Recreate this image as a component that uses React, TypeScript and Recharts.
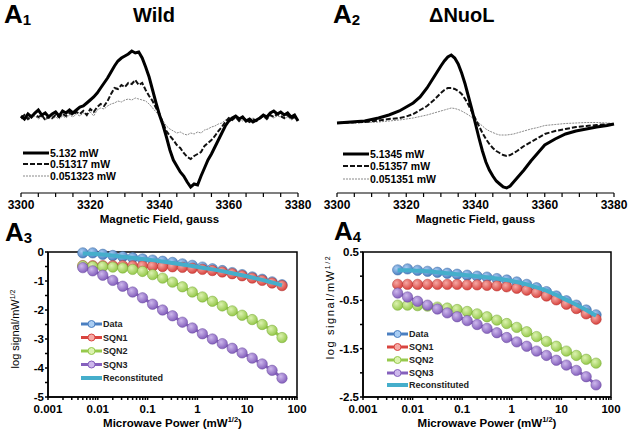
import React from 'react';
import { LineChart, Line, XAxis, YAxis, Legend, ReferenceArea } from 'recharts';

const FONT = '"Liberation Sans", Arial, Helvetica, sans-serif';

// field grid of the wild-type spectra (1 gauss steps)
const WILD_FIELD = Array.from({ length: 81 }, (_, i) => 3300 + i);
const WILD_5132 = [
  2, -1, 4, 1, 5, 8, 3, 5, 1, 4,
  6, 2, 7, 5, 8, 5, 8, 11, 12, 15,
  18, 21, 25, 30, 35, 40, 46, 52, 57, 60,
  62, 64, 67, 65, 66, 60, 51, 41, 28, 15,
  3, -7, -19, -32, -42, -48, -54, -58, -64, -69,
  -66, -67, -58, -50, -42, -36, -29, -22, -15, -8,
  -3, 0, 2, -1, 1, -3, -1, -4, -2, 0,
  3, 1, 5, 7, 4, 6, 3, 5, 1, 3, -3,
];
const WILD_0513 = [
  0, 3, -1, 2, 4, 1, 3, -2, 2, 0,
  3, 1, 4, 2, 5, 3, 6, 4, 7, 3,
  9, 6, 11, 14, 12, 17, 24, 30, 29, 33,
  31, 35, 34, 38, 33, 35, 28, 22, 17, 10,
  4, -5, -13, -18, -22, -27, -30, -35, -39, -41,
  -38, -36, -34, -28, -25, -22, -18, -13, -9, -4,
  0, -2, 1, -3, 0, -2, -4, -1, -3, 0,
  2, -1, 3, 1, 4, 2, 0, 3, -1, 1, -2,
];
const WILD_0051 = [
  -1, 1, -2, 0, 2, -1, 1, -2, 0, -1,
  1, -1, 2, 0, 3, 1, 4, 2, 5, 3,
  6, 2, 8, 10, 9, 12, 14, 15, 17, 16,
  18, 19, 18, 20, 19, 18, 17, 14, 10, 6,
  2, -3, -8, -11, -13, -15, -14, -16, -17, -15,
  -16, -14, -15, -12, -11, -9, -8, -6, -5, -2,
  -1, -2, 0, -1, -3, -1, -2, 0, -2, -1,
  1, -1, 2, 0, 2, 1, -1, 1, -2, 0, -2,
];

const NUOL_FIELD = [
  3300, 3304, 3308, 3312, 3315, 3318, 3320, 3322, 3324, 3326, 3328,
  3330, 3331, 3332, 3333, 3334, 3335, 3336, 3337, 3338, 3339, 3340, 3341,
  3342, 3343, 3344, 3345, 3346, 3347, 3348, 3349, 3350, 3351, 3352,
  3354, 3356, 3358, 3360, 3363, 3366, 3369, 3372, 3375, 3378, 3380,
];
const NUOL_5134 = [
  -5, -4, -3, 0, 3, 7, 11, 15, 21, 30, 41,
  52, 57, 61, 63, 60, 54, 45, 34, 21, 8, -6, -20,
  -33, -44, -52, -58, -63, -66, -69, -70, -68, -64, -60,
  -52, -43, -35, -27, -21, -16, -13, -11, -9, -7.5, -6,
];
const NUOL_0513 = [
  -5, -4.5, -4, -2.5, -1, 0, 1.5, 4, 8, 12, 18,
  25, 28, 30, 30, 29, 27, 24, 19, 13, 6, -1, -8,
  -15, -21, -26, -30, -33, -35, -37, -38, -37, -35, -33,
  -28, -24, -20, -16, -13, -11, -9, -8, -7, -6.5, -6,
];
const NUOL_0051 = [
  -5, -5, -4.5, -4, -3, -2, -1, 0, 1.5, 3, 5,
  7, 8, 9, 10, 9.5, 8.5, 7, 5, 3, 0.5, -2, -5,
  -8, -11, -13, -14.5, -16, -17, -17, -17, -16.5, -16, -15,
  -13, -11, -9.5, -7.5, -6.5, -5.5, -5, -4.5, -4.5, -5, -5.5,
];

const FIELD_TICKS = [3300, 3305, 3310, 3315, 3320, 3325, 3330, 3335, 3340, 3345, 3350, 3355, 3360, 3365, 3370, 3375, 3380];

// square root of microwave power, mW^1/2
const POWER = [0.005, 0.0079, 0.0126, 0.02, 0.0316, 0.05, 0.079, 0.126, 0.2, 0.316, 0.5, 0.79, 1.26, 2, 3.16, 5, 7.9, 12.6, 20, 31.6, 50];
const LOG_TICKS = [
  0.001, 0.002, 0.003, 0.004, 0.005, 0.006, 0.007, 0.008, 0.009,
  0.01, 0.02, 0.03, 0.04, 0.05, 0.06, 0.07, 0.08, 0.09,
  0.1, 0.2, 0.3, 0.4, 0.5, 0.6, 0.7, 0.8, 0.9,
  1, 2, 3, 4, 5, 6, 7, 8, 9,
  10, 20, 30, 40, 50, 60, 70, 80, 90, 100,
];
const DECADES = [0.001, 0.01, 0.1, 1, 10, 100];

const A3_DATA = [-0.03, -0.03, -0.08, -0.12, -0.16, -0.2, -0.24, -0.28, -0.32, -0.36, -0.41, -0.46, -0.52, -0.58, -0.64, -0.71, -0.78, -0.86, -0.94, -1.03, -1.13];
const A3_SQN1 = [-0.47, -0.47, -0.47, -0.47, -0.47, -0.48, -0.48, -0.49, -0.5, -0.51, -0.53, -0.56, -0.6, -0.64, -0.69, -0.75, -0.82, -0.9, -0.98, -1.07, -1.16];
const A3_SQN2 = [-0.48, -0.5, -0.5, -0.52, -0.55, -0.6, -0.67, -0.78, -0.9, -1.04, -1.2, -1.38, -1.55, -1.7, -1.86, -2.03, -2.18, -2.33, -2.5, -2.7, -2.95];
const A3_SQN3 = [-0.54, -0.65, -0.8, -0.98, -1.18, -1.38, -1.58, -1.8, -2.0, -2.2, -2.42, -2.62, -2.82, -3.0, -3.16, -3.32, -3.48, -3.66, -3.86, -4.08, -4.35];
const A3_RECON = [-0.05, -0.06, -0.09, -0.12, -0.16, -0.2, -0.24, -0.28, -0.33, -0.38, -0.43, -0.48, -0.54, -0.6, -0.66, -0.73, -0.8, -0.88, -0.96, -1.05, -1.15];

const A4_DATA = [0.13, 0.15, 0.12, 0.1, 0.08, 0.06, 0.04, 0.02, 0.0, -0.02, -0.05, -0.08, -0.12, -0.17, -0.24, -0.32, -0.41, -0.51, -0.6, -0.7, -0.8];
const A4_SQN1 = [-0.17, -0.17, -0.17, -0.17, -0.17, -0.17, -0.17, -0.18, -0.18, -0.19, -0.2, -0.22, -0.25, -0.29, -0.34, -0.41, -0.49, -0.58, -0.67, -0.78, -0.89];
const A4_SQN2 = [-0.6, -0.6, -0.61, -0.62, -0.64, -0.66, -0.69, -0.73, -0.78, -0.84, -0.91, -0.98, -1.06, -1.15, -1.25, -1.35, -1.45, -1.55, -1.64, -1.72, -1.8];
const A4_SQN3 = [-0.35, -0.43, -0.52, -0.6, -0.68, -0.76, -0.84, -0.92, -1.0, -1.08, -1.17, -1.27, -1.36, -1.45, -1.55, -1.64, -1.74, -1.84, -1.95, -2.08, -2.25];
const A4_RECON = [0.12, 0.12, 0.11, 0.1, 0.08, 0.06, 0.04, 0.02, 0.0, -0.02, -0.05, -0.08, -0.12, -0.17, -0.23, -0.3, -0.39, -0.49, -0.59, -0.7, -0.82];

const SERIES = [
  { key: 'data', name: 'Data', base: '#4a7fc1', light: '#a9cdf3', edge: '#3a68a3' },
  { key: 'sqn1', name: 'SQN1', base: '#d9443f', light: '#f5a9a5', edge: '#b3332f' },
  { key: 'sqn2', name: 'SQN2', base: '#96c94c', light: '#dcf2b0', edge: '#77a935' },
  { key: 'sqn3', name: 'SQN3', base: '#8560bd', light: '#cdb8ec', edge: '#684a9c' },
];
const RECON_COLOR = '#45aecb';

const TRACE_STYLES = [
  { stroke: '#000', width: 3, dash: undefined as string | undefined },
  { stroke: '#111', width: 2, dash: '5 2' },
  { stroke: '#8a8a8a', width: 1, dash: '2 1' },
];

const Tag = ({ n, left, top }: { n: string; left: number; top: number }) => (
  <div style={{ position: 'absolute', left, top, font: `bold 26px ${FONT}`, lineHeight: '26px' }}>
    A<span style={{ fontSize: 15, position: 'relative', top: 2 }}>{n}</span>
  </div>
);

const SpecLegend = ({ labels, rows }: { labels: string[]; rows: number[] }) => (
  <svg width={110} height={40} style={{ display: 'block' }}>
    {labels.map((t, i) => (
      <g key={t}>
        <line x1={2} x2={28} y1={rows[i]} y2={rows[i]} stroke={TRACE_STYLES[i].stroke} strokeWidth={TRACE_STYLES[i].width} strokeDasharray={TRACE_STYLES[i].dash} />
        <text x={29} y={rows[i]} dominantBaseline="central" fontFamily={FONT} fontWeight="bold" fontSize={10.5} fill="#000">{t}</text>
      </g>
    ))}
  </svg>
);

function Spectrum({ left, field, traces, labels, legendLeft, legendTop, rows }: {
  left: number; field: number[]; traces: number[][]; labels: string[]; legendLeft: number; legendTop: number; rows: number[];
}) {
  const data = field.map((f, i) => ({ f, t0: traces[0][i], t1: traces[1][i], t2: traces[2][i] }));
  return (
    <div style={{ position: 'absolute', left, top: 0 }}>
      <LineChart width={316} height={232} data={data} margin={{ top: 40, right: 18, bottom: 0, left: 21 }}>
        <XAxis
          dataKey="f" type="number" domain={[3300, 3380]} ticks={FIELD_TICKS} interval={0}
          tickFormatter={(v: number) => (v % 20 === 0 ? String(v) : '')}
          height={39} tickSize={4} tickMargin={3} stroke="#000" strokeWidth={1.2}
          tick={{ fill: '#000', fontSize: 12, fontWeight: 'bold', fontFamily: FONT }}
        />
        <YAxis hide type="number" domain={[-75, 78]} />
        {[2, 1, 0].map((i) => (
          <Line key={i} dataKey={`t${i}`} type="linear" stroke={TRACE_STYLES[i].stroke} strokeWidth={TRACE_STYLES[i].width}
            strokeDasharray={TRACE_STYLES[i].dash} dot={false} isAnimationActive={false} />
        ))}
        <Legend layout="vertical" align="center" verticalAlign="middle"
          wrapperStyle={{ left: legendLeft, top: legendTop, width: 110 }}
          content={() => <SpecLegend labels={labels} rows={rows} />} />
      </LineChart>
    </div>
  );
}

const ballDot = (prefix: string, s: typeof SERIES[number]) => (p: any) => (
  <circle key={`${prefix}-${s.key}-${p.index}`} cx={p.cx} cy={p.cy} r={5.2} fill={`url(#${prefix}-${s.key})`} stroke={s.edge} strokeWidth={0.5} />
);

const PowerLegend = ({ rows }: { rows: number[] }) => (
  <svg width={90} height={70} style={{ display: 'block' }}>
    {SERIES.map((s, i) => (
      <g key={s.key}>
        <line x1={1} x2={22} y1={rows[i]} y2={rows[i]} stroke={s.base} strokeWidth={3} />
        <circle cx={11.5} cy={rows[i]} r={3.5} fill={s.light} stroke={s.base} strokeWidth={1} />
        <text x={23} y={rows[i]} dominantBaseline="central" fontFamily={FONT} fontWeight="bold" fontSize={9} fill="#222">{s.name}</text>
      </g>
    ))}
    <line x1={1} x2={22} y1={rows[4]} y2={rows[4]} stroke={RECON_COLOR} strokeWidth={4} />
    <text x={23} y={rows[4]} dominantBaseline="central" fontFamily={FONT} fontWeight="bold" fontSize={9} fill="#222">Reconstituted</text>
  </svg>
);

function Saturation({ left, prefix, values, recon, yDomain, yTicks, showY, yWidth, rightMargin, legendLeft, legendTop, rows }: {
  left: number; prefix: string; values: number[][]; recon: number[]; yDomain: [number, number]; yTicks: number[];
  showY: (v: number) => boolean; yWidth: number; rightMargin: number; legendLeft: number; legendTop: number; rows: number[];
}) {
  const data = POWER.map((p, i) => ({
    p, data: values[0][i], sqn1: values[1][i], sqn2: values[2][i], sqn3: values[3][i], recon: recon[i],
  }));
  return (
    <div style={{ position: 'absolute', left, top: 232 }}>
      <LineChart width={316} height={200} data={data} margin={{ top: 20, right: rightMargin, bottom: 0, left: 0 }}>
        <defs>
          {SERIES.map((s) => (
            <radialGradient key={s.key} id={`${prefix}-${s.key}`} cx="38%" cy="35%" r="65%">
              <stop offset="0%" stopColor={s.light} />
              <stop offset="100%" stopColor={s.base} />
            </radialGradient>
          ))}
        </defs>
        <XAxis
          dataKey="p" type="number" scale="log" domain={[0.001, 100]} ticks={LOG_TICKS} interval={0} allowDataOverflow
          tickFormatter={(v: number) => (DECADES.includes(v) ? String(v) : '')}
          height={35} tickSize={3} tickMargin={5} stroke="#000" strokeWidth={1.5}
          tick={{ fill: '#000', fontSize: 11.5, fontWeight: 'bold', fontFamily: FONT }}
        />
        <YAxis
          type="number" domain={yDomain} ticks={yTicks} interval={0} width={yWidth}
          tickFormatter={(v: number) => (showY(v) ? String(v) : '')}
          tickSize={3} tickMargin={1} stroke="#000" strokeWidth={1.5}
          tick={{ fill: '#000', fontSize: 11.5, fontWeight: 'bold', fontFamily: FONT }}
        />
        <ReferenceArea x1={0.001} x2={100} y1={yDomain[0]} y2={yDomain[1]} fill="none" stroke="#000" strokeWidth={1.5} />
        {SERIES.map((s) => (
          <Line key={s.key} dataKey={s.key} type="linear" stroke={s.base} strokeWidth={3}
            dot={ballDot(prefix, s)} activeDot={false} isAnimationActive={false} />
        ))}
        <Line dataKey="recon" type="linear" stroke={RECON_COLOR} strokeWidth={4} dot={false} activeDot={false}
          isAnimationActive={false} {...({ zIndex: 650 } as any)} />
        <Legend layout="vertical" align="center" verticalAlign="middle"
          wrapperStyle={{ left: legendLeft, top: legendTop, width: 90 }}
          content={() => <PowerLegend rows={rows} />} />
      </LineChart>
    </div>
  );
}

const axisTitle: React.CSSProperties = { position: 'absolute', font: `bold 11.5px ${FONT}`, whiteSpace: 'nowrap', color: '#000' };

export default function App() {
  return (
    <div style={{ position: 'absolute', left: 0, top: 0, width: 632, height: 432, background: '#fff', overflow: 'hidden', fontFamily: FONT }}>
      <Spectrum left={0} field={WILD_FIELD} traces={[WILD_5132, WILD_0513, WILD_0051]}
        labels={['5.132 mW', '0.51317 mW', '0.051323 mW']} legendLeft={21} legendTop={146} rows={[7, 18, 30]} />
      <Spectrum left={316} field={NUOL_FIELD} traces={[NUOL_5134, NUOL_0513, NUOL_0051]}
        labels={['5.1345 mW', '0.51357 mW', '0.051351 mW']} legendLeft={25} legendTop={147} rows={[7, 19, 32]} />

      <Saturation left={0} prefix="a3" values={[A3_DATA, A3_SQN1, A3_SQN2, A3_SQN3]} recon={A3_RECON}
        yDomain={[-5, 0]} yTicks={[-5, -4.5, -4, -3.5, -3, -2.5, -2, -1.5, -1, -0.5, 0]}
        showY={(v) => Number.isInteger(v)} yWidth={48} rightMargin={19}
        legendLeft={80} legendTop={84} rows={[8, 21.5, 35, 48.5, 62]} />
      <Saturation left={316} prefix="a4" values={[A4_DATA, A4_SQN1, A4_SQN2, A4_SQN3]} recon={A4_RECON}
        yDomain={[-2.5, 0.5]} yTicks={[-2.5, -2, -1.5, -1, -0.5, 0, 0.5]}
        showY={(v) => Number.isInteger(v + 0.5)} yWidth={47} rightMargin={21}
        legendLeft={70} legendTop={94} rows={[8, 21, 34, 47, 59]} />

      <Tag n="1" left={4} top={1} />
      <Tag n="2" left={333} top={1} />
      <Tag n="3" left={5} top={219} />
      <Tag n="4" left={334} top={218} />

      <div style={{ position: 'absolute', left: 133, top: 5, font: `bold 20px ${FONT}`, lineHeight: '20px' }}>Wild</div>
      <div style={{ position: 'absolute', left: 429, top: 5, font: `bold 20px ${FONT}`, lineHeight: '20px' }}>ΔNuoL</div>

      <div style={{ ...axisTitle, left: 0, width: 319, textAlign: 'center', top: 213 }}>Magnetic Field, gauss</div>
      <div style={{ ...axisTitle, left: 316, width: 319, textAlign: 'center', top: 213 }}>Magnetic Field, gauss</div>

      <div style={{ ...axisTitle, left: 48, width: 249, textAlign: 'center', top: 415 }}>
        Microwave Power (mW<sup style={{ fontSize: 7.5 }}>1/2</sup>)
      </div>
      <div style={{ ...axisTitle, left: 363, width: 248, textAlign: 'center', top: 415 }}>
        Microwave Power (mW<sup style={{ fontSize: 7.5 }}>1/2</sup>)
      </div>

      <div style={{ position: 'absolute', left: 15, top: 329, transform: 'translate(-50%, -50%) rotate(-90deg)', font: `11px ${FONT}`, whiteSpace: 'nowrap' }}>
        log signal/mW<sup style={{ fontSize: 7 }}>1/2</sup>
      </div>
      <div style={{ position: 'absolute', left: 330, top: 307, transform: 'translate(-50%, -50%) rotate(-90deg)', font: `11px ${FONT}`, letterSpacing: 1.6, whiteSpace: 'nowrap' }}>
        log signal/mW<sup style={{ fontSize: 7 }}>1/2</sup>
      </div>
    </div>
  );
}
